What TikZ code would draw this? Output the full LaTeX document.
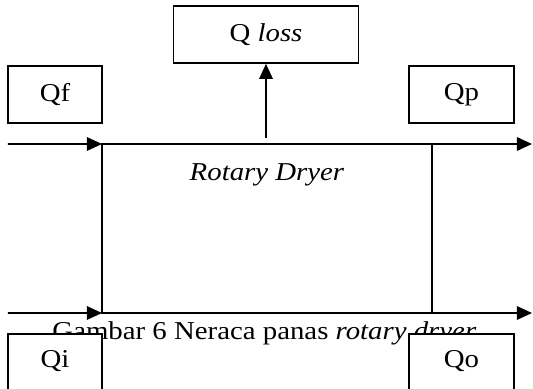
\documentclass[tikz,border=0pt]{standalone}
\usepackage{fontspec}
\setmainfont[FakeStretch=1.12]{Liberation Serif}
\usetikzlibrary{arrows.meta}

\begin{document}
\begin{tikzpicture}[>={Triangle[length=0.38cm,width=0.34cm]}, line width=1.1pt,
  box/.style={draw, fill=white, minimum height=1.425cm, inner sep=0pt},
  every node/.style={font=\fontsize{18.3}{22}\selectfont}]
\useasboundingbox (0,0) rectangle (13.325,-9.725);
\node (qloss) at (6.65,-0.8625) [box, minimum width=4.625cm] {Q \textit{loss}};
\node (qf) at (1.375,-2.3625) [box, minimum width=2.35cm] {Qf};
\node (qp) at (11.5375,-2.3625) [box, minimum width=2.625cm] {Qp};
\node (dryer) at (6.675,-5.7125) [draw, outer sep=0pt, minimum width=8.25cm, minimum height=4.225cm] {};
\node (dryertext) at (6.675,-4.375) {\textit{Rotary Dryer}};
\coordinate (in1) at (0.2,-3.6);
\coordinate (out1) at (13.3,-3.6);
\coordinate (in2) at (0.2,-7.825);
\coordinate (out2) at (13.3,-7.825);
\coordinate (lossfoot) at (6.65,-3.45);
\draw [->] (in1) -- (dryer.north west);
\draw [->] (dryer.north west) -- (out1);
\draw [->] (in2) -- (dryer.south west);
\draw [->] (dryer.south west) -- (out2);
\draw [->] (lossfoot) -- (qloss.south);
\node (caption) at (6.61,-8.475) [anchor=base] {Gambar 6 Neraca panas \textit{rotary dryer}};
\node (qi) at (1.375,-8.325) [box, anchor=north, minimum width=2.35cm, minimum height=1.6cm, text height=0.4cm, text depth=0.32cm] {Qi};
\node (qo) at (11.5375,-8.325) [box, anchor=north, minimum width=2.625cm, minimum height=1.6cm, text height=0.4cm, text depth=0.32cm] {Qo};
\end{tikzpicture}
\end{document}
